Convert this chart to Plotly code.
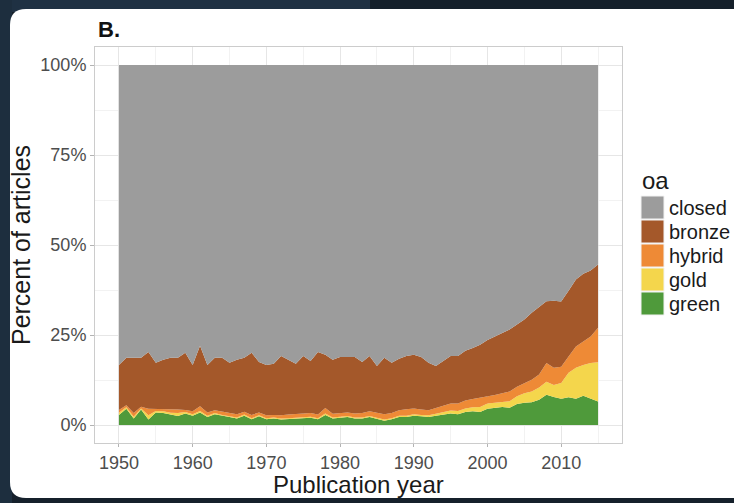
import plotly.graph_objects as go

years = list(range(1950, 2016))

green = [2.8, 4.5, 1.8, 4.3, 1.5, 3.5, 3.3, 2.8, 2.5, 3.2,
         2.6, 3.5, 2.2, 3.0, 2.5, 2.2, 1.8, 2.6, 1.6, 2.4,
         1.6, 1.8, 1.5, 1.6, 1.8, 1.8, 2.0, 1.6, 2.8, 1.8,
         2.0, 2.2, 1.8, 1.8, 2.2, 1.8, 1.2, 1.6, 2.2, 2.2,
         2.6, 2.4, 2.2, 2.6, 3.0, 3.2, 3.0, 3.6, 3.8, 3.6,
         4.5, 4.8, 5.0, 4.8, 5.8, 6.2, 6.3, 7.0, 8.4, 7.8,
         7.3, 7.7, 7.3, 8.1, 7.2, 6.5]
gold = [0.6, 0.4, 0.5, 0.3, 1.2, 0.4, 0.5, 0.6, 0.8, 0.4,
        0.4, 0.4, 0.4, 0.3, 0.3, 0.3, 0.3, 0.3, 0.3, 0.3,
        0.3, 0.3, 0.3, 0.3, 0.3, 0.3, 0.3, 0.3, 0.4, 0.3,
        0.3, 0.3, 0.3, 0.3, 0.3, 0.3, 0.3, 0.3, 0.4, 0.4,
        0.4, 0.4, 0.5, 0.5, 0.6, 0.8, 0.9, 1.0, 1.1, 1.4,
        1.5, 1.4, 1.5, 1.8, 2.2, 2.6, 3.0, 3.4, 3.6, 3.3,
        4.4, 6.8, 8.6, 8.6, 10.0, 10.9]
hybrid = [0.8, 0.6, 1.0, 0.5, 1.8, 0.6, 0.6, 0.9, 1.0, 0.6,
          0.8, 1.3, 0.9, 0.8, 0.9, 0.8, 0.9, 0.8, 0.9, 0.8,
          0.8, 0.7, 0.9, 1.0, 1.0, 1.1, 1.0, 1.0, 1.5, 1.0,
          1.1, 1.0, 1.1, 1.2, 1.3, 1.4, 1.5, 1.4, 1.5, 1.8,
          1.6, 1.5, 1.4, 1.6, 1.8, 2.0, 2.1, 2.2, 2.3, 2.5,
          2.0, 2.1, 2.3, 2.7, 2.6, 2.9, 3.3, 3.6, 5.2, 4.8,
          4.5, 4.5, 5.9, 6.5, 7.4, 9.6]
bronze = [12.5, 13.2, 15.4, 13.6, 15.8, 12.8, 13.7, 14.4, 14.4, 15.9,
          12.9, 16.8, 13.2, 14.6, 15.0, 14.0, 15.1, 15.0, 17.3, 14.0,
          14.0, 14.2, 16.5, 15.2, 13.9, 16.0, 14.5, 17.4, 14.8, 15.0,
          15.5, 15.4, 15.7, 14.2, 15.4, 12.9, 15.7, 14.0, 14.3, 14.8,
          14.9, 14.6, 13.2, 11.7, 12.4, 13.2, 13.2, 13.8, 14.2, 14.8,
          15.6, 16.3, 16.8, 17.2, 17.3, 17.6, 18.6, 18.9, 17.2, 18.6,
          18.1, 18.3, 18.6, 18.8, 18.3, 17.6]
closed = [83.3, 81.3, 81.3, 81.3, 79.7, 82.7, 81.9, 81.3, 81.3, 79.9,
          83.3, 78.0, 83.3, 81.3, 81.3, 82.7, 81.9, 81.3, 79.9, 82.5,
          83.3, 83.0, 80.8, 81.9, 83.0, 80.8, 82.2, 79.7, 80.5, 81.9,
          81.1, 81.1, 81.1, 82.5, 80.8, 83.6, 81.3, 82.7, 81.6, 80.8,
          80.5, 81.1, 82.7, 83.6, 82.2, 80.8, 80.8, 79.4, 78.6, 77.7,
          76.4, 75.4, 74.4, 73.5, 72.1, 70.7, 68.8, 67.1, 65.6, 65.5,
          65.7, 62.7, 59.6, 58.0, 57.1, 55.4]

categories = ["closed", "bronze", "hybrid", "gold", "green"]
colors = {"closed": "#9c9c9c", "bronze": "#a4582a", "hybrid": "#ee8a36",
          "gold": "#f4d64c", "green": "#4f9a3b"}
series = {"green": green, "gold": gold, "hybrid": hybrid,
          "bronze": bronze, "closed": closed}

fig = go.Figure()
for name in ["green", "gold", "hybrid", "bronze", "closed"]:
    fig.add_trace(go.Scatter(
        x=years, y=series[name], name=name, stackgroup="oa",
        mode="lines", line=dict(width=0, color=colors[name]),
        fillcolor=colors[name], showlegend=False, hoverinfo="x+y+name"))

# plot area geometry in px (for paper coordinate conversions)
L, R, T, B = 95, 622, 47, 443
W, H = 734, 503
pw, ph = R - L, B - T
def px(x):
    return (x - L) / pw
def py(y):
    return (B - y) / ph

shapes = []
# lighter strips of the screenshot background
shapes.append(dict(type="rect", xref="paper", yref="paper", layer="below",
                   x0=px(0), x1=px(370), y0=py(12), y1=py(0),
                   fillcolor="#1f3143", line=dict(width=0)))
shapes.append(dict(type="rect", xref="paper", yref="paper", layer="below",
                   x0=px(0), x1=px(12), y0=py(503), y1=py(0),
                   fillcolor="#1d2e3e", line=dict(width=0)))
# white rounded card
r = 16
x0, x1, y0, y1 = 10, 760, 9, 498
path = (f"M {px(x0 + r)},{py(y0)} L {px(x1)},{py(y0)} L {px(x1)},{py(y1)} "
        f"L {px(x0 + r)},{py(y1)} Q {px(x0)},{py(y1)} {px(x0)},{py(y1 - r)} "
        f"L {px(x0)},{py(y0 + r)} Q {px(x0)},{py(y0)} {px(x0 + r)},{py(y0)} Z")
shapes.append(dict(type="path", xref="paper", yref="paper", layer="below",
                   path=path, fillcolor="white", line=dict(width=0)))

annotations = []
# legend drawn manually (ggplot style squares)
annotations.append(dict(text="oa", x=px(640), y=py(181), xref="paper", yref="paper",
                        xanchor="left", yanchor="middle", showarrow=False,
                        font=dict(size=24, color="#1a1a1a")))
key_top = 196
for i, name in enumerate(categories):
    ytop = key_top + i * 24
    shapes.append(dict(type="rect", xref="paper", yref="paper", layer="above",
                       x0=px(641), x1=px(664), y0=py(ytop + 23), y1=py(ytop),
                       fillcolor=colors[name], line=dict(width=1, color="#f2f2f2")))
    annotations.append(dict(text=name, x=px(667), y=py(ytop + 12), xref="paper",
                            yref="paper", xanchor="left", yanchor="middle",
                            showarrow=False, font=dict(size=20, color="#1a1a1a")))
annotations.append(dict(text="<b>B.</b>", x=px(96), y=py(30), xref="paper", yref="paper",
                        xanchor="left", yanchor="middle", showarrow=False,
                        font=dict(size=22, color="#111111")))
# x axis title
annotations.append(dict(text="Publication year", x=px(358), y=py(484), xref="paper",
                        yref="paper", xanchor="center", yanchor="middle",
                        showarrow=False, font=dict(size=24, color="#1a1a1a")))

fig.update_layout(
    width=W, height=H,
    margin=dict(l=L, r=W - R, t=T, b=H - B, autoexpand=False),
    paper_bgcolor="#15202b", plot_bgcolor="white",
    font=dict(family="Liberation Sans, Arial, sans-serif", color="#4d4d4d"),
    shapes=shapes, annotations=annotations, showlegend=False,
)
fig.update_xaxes(
    range=[1946.75, 2018.25], tickmode="linear", tick0=1950, dtick=10,
    showgrid=True, gridcolor="#e6e6e6", gridwidth=1, automargin=False,
    minor=dict(tickmode="linear", tick0=1955, dtick=10, showgrid=True,
               gridcolor="#f2f2f2", gridwidth=1, ticklen=0),
    ticks="outside", ticklen=3, tickcolor="#b3b3b3",
    showline=True, linecolor="#cccccc", linewidth=1, mirror=True, zeroline=False,
    tickfont=dict(size=18, color="#4d4d4d"),
)
fig.update_yaxes(
    range=[-5, 105], tickmode="array", tickvals=[0, 25, 50, 75, 100],
    ticktext=["0%", "25%", "50%", "75%", "100%"],
    showgrid=True, gridcolor="#e6e6e6", gridwidth=1, automargin=False,
    minor=dict(tickmode="array", tickvals=[12.5, 37.5, 62.5, 87.5], showgrid=True,
               gridcolor="#f2f2f2", gridwidth=1, ticklen=0),
    ticks="outside", ticklen=4, tickcolor="#b3b3b3",
    showline=True, linecolor="#cccccc", linewidth=1, mirror=True, zeroline=False,
    tickfont=dict(size=18, color="#4d4d4d"),
    title=dict(text="Percent of articles", font=dict(size=25, color="#1a1a1a"), standoff=2),
)

fig.write_html(
    "out.html",
    config={"displayModeBar": False},
    post_script="document.body.style.margin='0';document.body.style.background='#15202b';",
)
